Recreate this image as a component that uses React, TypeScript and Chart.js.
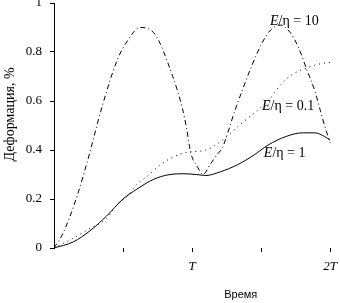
import React, { useEffect, useRef } from "react";
import { Chart, registerables } from "chart.js";

Chart.register(...registerables);

// Time in units of T
const t10 = [0, 0.065, 0.16, 0.24, 0.35, 0.46, 0.55, 0.62, 0.72, 0.86, 0.93, 0.96, 0.99, 1.04, 1.08, 1.13, 1.18, 1.22, 1.31, 1.43, 1.51, 1.57, 1.64, 1.71, 1.77, 1.83, 1.89, 1.93, 1.96, 2.0];
const v10 = [0, 0.06, 0.2, 0.35, 0.58, 0.77, 0.86, 0.9, 0.88, 0.7, 0.57, 0.49, 0.39, 0.33, 0.3, 0.34, 0.38, 0.41, 0.56, 0.74, 0.84, 0.89, 0.91, 0.88, 0.82, 0.73, 0.64, 0.56, 0.5, 0.43];

const t01 = [0, 0.14, 0.26, 0.38, 0.46, 0.53, 0.6, 0.67, 0.77, 0.86, 0.96, 1.1, 1.22, 1.34, 1.47, 1.55, 1.64, 1.72, 1.83, 1.93, 2.0];
const v01 = [0, 0.04, 0.08, 0.12, 0.18, 0.21, 0.26, 0.29, 0.34, 0.37, 0.39, 0.4, 0.44, 0.5, 0.56, 0.6, 0.665, 0.706, 0.735, 0.752, 0.758];

const t1 = [0, 0.14, 0.26, 0.38, 0.5, 0.6, 0.72, 0.84, 0.94, 1.03, 1.1, 1.2, 1.33, 1.45, 1.55, 1.68, 1.8, 1.89, 1.96, 2.0];
const v1 = [0, 0.025, 0.07, 0.13, 0.2, 0.24, 0.28, 0.3, 0.303, 0.3, 0.296, 0.31, 0.34, 0.38, 0.42, 0.455, 0.47, 0.47, 0.455, 0.44];

const xTickValues = [0.5, 1, 1.5, 2];
const xTickLabels: Record<string, string> = { "1": "T", "2": "2T" };
const yTickValues = [0, 0.2, 0.4, 0.6, 0.8, 1];

const seriesNames = ["E/η = 10", "E/η = 0.1", "E/η = 1"];
// label anchors (data units: time in T, strain in %)
const labelT = [1.565, 1.507, 1.52];
const labelV = [0.927, 0.58, 0.388];

const xTitle = "Время";
const yTitle = "Деформация, %";

const pts = (t: number[], v: number[]) => t.map((x, i) => ({ x, y: v[i] }));

const textPlugin = {
  id: "texts",
  afterDraw(chart: any) {
    const ctx = chart.ctx;
    const xs = chart.scales.x;
    const ys = chart.scales.y;
    ctx.save();
    ctx.fillStyle = "#000";
    ctx.textBaseline = "middle";
    ctx.textAlign = "left";
    seriesNames.forEach((name, i) => {
      let x = xs.getPixelForValue(labelT[i]);
      const y = ys.getPixelForValue(labelV[i]);
      ctx.font = "italic 14px 'Liberation Serif'";
      ctx.fillText("E", x, y);
      x += ctx.measureText("E").width;
      ctx.font = "14px 'Liberation Serif'";
      ctx.fillText(name.slice(1), x, y);
    });
    // axis titles
    ctx.font = "11px 'Liberation Sans'";
    ctx.textAlign = "center";
    ctx.fillText(xTitle, chart.chartArea.left + (chart.chartArea.right - chart.chartArea.left) * 0.66, 295);
    ctx.translate(10, chart.chartArea.top + (chart.chartArea.bottom - chart.chartArea.top) * 0.455);
    ctx.rotate(-Math.PI / 2);
    ctx.font = "14px 'Liberation Serif'";
    ctx.fillText(yTitle, 0, 0);
    ctx.restore();
  },
};

const noPad = (s: any) => {
  s.paddingTop = 0;
  s.paddingBottom = 0;
  s.paddingLeft = 0;
  s.paddingRight = 0;
};

export default function App() {
  const ref = useRef<HTMLCanvasElement>(null);
  useEffect(() => {
    if (!ref.current) return;
    const common = { pointRadius: 0, borderWidth: 1, borderColor: "#000", fill: false, cubicInterpolationMode: "monotone" as const };
    const chart = new Chart(ref.current, {
      type: "line",
      data: {
        datasets: [
          { ...common, label: seriesNames[0], data: pts(t10, v10), borderDash: [5, 3, 1, 3] },
          { ...common, label: seriesNames[1], data: pts(t01, v01), borderDash: [1, 4] },
          { ...common, label: seriesNames[2], data: pts(t1, v1) },
        ],
      },
      options: {
        responsive: false,
        animation: false,
        devicePixelRatio: 1,
        layout: { padding: { top: 3, right: 3, left: 0, bottom: 0 } },
        plugins: { legend: { display: false }, tooltip: { enabled: false } },
        scales: {
          x: {
            type: "linear",
            min: 0,
            max: 2.05,
            afterFit: (s: any) => { s.height = 55; noPad(s); },
            afterBuildTicks: (s: any) => { s.ticks = xTickValues.map((value) => ({ value })); },
            ticks: {
              autoSkip: false,
              maxRotation: 0,
              padding: 7,
              color: "#000",
              font: { family: "'Liberation Serif'", size: 13, style: "italic" },
              callback: (v: any) => xTickLabels[String(v)] ?? "",
            },
            grid: { drawOnChartArea: false, drawTicks: true, tickLength: 4, color: "#000" },
            border: { display: false },
          },
          y: {
            type: "linear",
            min: 0,
            max: 1,
            afterFit: (s: any) => { s.width = 54; noPad(s); },
            afterBuildTicks: (s: any) => { s.ticks = yTickValues.map((value) => ({ value })); },
            ticks: {
              padding: 8,
              color: "#000",
              font: { family: "'Liberation Serif'", size: 13 },
              callback: (v: any) => String(v),
            },
            grid: { drawOnChartArea: false, drawTicks: true, tickLength: 4, color: "#000" },
            border: { display: true, color: "#000", width: 1 },
          },
        },
      },
      plugins: [textPlugin],
    });
    return () => chart.destroy();
  }, []);
  return (
    <div style={{ position: "fixed", left: 0, top: 0, width: 340, height: 303, background: "#fff" }}>
      <canvas ref={ref} width={340} height={303} />
    </div>
  );
}
